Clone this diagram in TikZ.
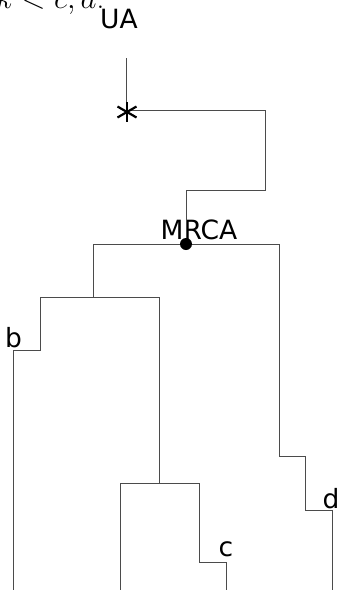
\documentclass[tikz,border=0pt]{standalone}
\usepackage{fix-cm}
\usepackage{fontspec}
\usetikzlibrary{calc}
\newfontfamily\labelfont{DejaVu Sans}
\begin{document}
\begin{tikzpicture}[x=1pt,y=-1pt,
  branch/.style={draw={rgb,255:red,75;green,75;blue,75},line width=1pt},
  lbl/.style={font=\labelfont\fontsize{26.5}{30}\selectfont,inner sep=0pt,anchor=base},
  starstroke/.style={draw=black,line width=2.2pt}]
\useasboundingbox (0,0) rectangle (338,590);

% caption fragment running off the top edge
\node[inner sep=0pt,anchor=base east,font=\fontsize{31}{36}\selectfont] (cap) at (104.5,8) {$k<c,d$.};

% labels
\node[lbl] (ualbl) at (119,28) {UA};
\node[lbl] (mrcalbl) at (199,239) {MRCA};
\node[lbl] (blbl) at (13.5,347) {b};
\node[lbl] (clbl) at (226,556) {c};
\node[lbl] (dlbl) at (331,508) {d};

% tree vertices
\coordinate (ua) at (126,58);
\coordinate (ast) at (126,110);
\coordinate (k1) at (265,190);
\coordinate (mrca) at (186,244);
\coordinate (n1) at (93,244);
\coordinate (n2) at (279,244);
\coordinate (n3) at (40,297);
\coordinate (n4) at (159,297);
\coordinate (n5) at (13,350);
\coordinate (n6) at (120,483);
\coordinate (n7) at (199,483);
\coordinate (n8) at (226,562);
\coordinate (n9) at (305,456);
\coordinate (n10) at (332,510);
\coordinate (tb) at (13,590);
\coordinate (tx) at (120,590);
\coordinate (tc) at (226,590);
\coordinate (td) at (332,590);

% stem from the ancestor down to the root of the clade
\draw[branch] (ua) -- (ast) -| (k1) -| (mrca);

% clade
\draw[branch] (n1) -- (n2);
\draw[branch] (n1) |- (n4);
\draw[branch] (n3) -- (n4);
\draw[branch] (n3) |- (n5) -- (tb);
\draw[branch] (n4) |- (n7);
\draw[branch] (n6) -- (n7);
\draw[branch] (n6) -- (tx);
\draw[branch] (n7) |- (n8) -- (tc);
\draw[branch] (n2) |- (n9) |- (n10) -- (td);

% asterisk on the stem
\coordinate (astc) at (127,112);
\draw[starstroke] ($(astc)+(0,-10)$) -- ($(astc)+(0,10)$);
\draw[starstroke] ($(astc)+(-9.5,-5.5)$) -- ($(astc)+(9.5,5.5)$);
\draw[starstroke] ($(astc)+(-9.5,5.5)$) -- ($(astc)+(9.5,-5.5)$);

% root dot
\fill (mrca) circle (6pt);
\end{tikzpicture}
\end{document}
